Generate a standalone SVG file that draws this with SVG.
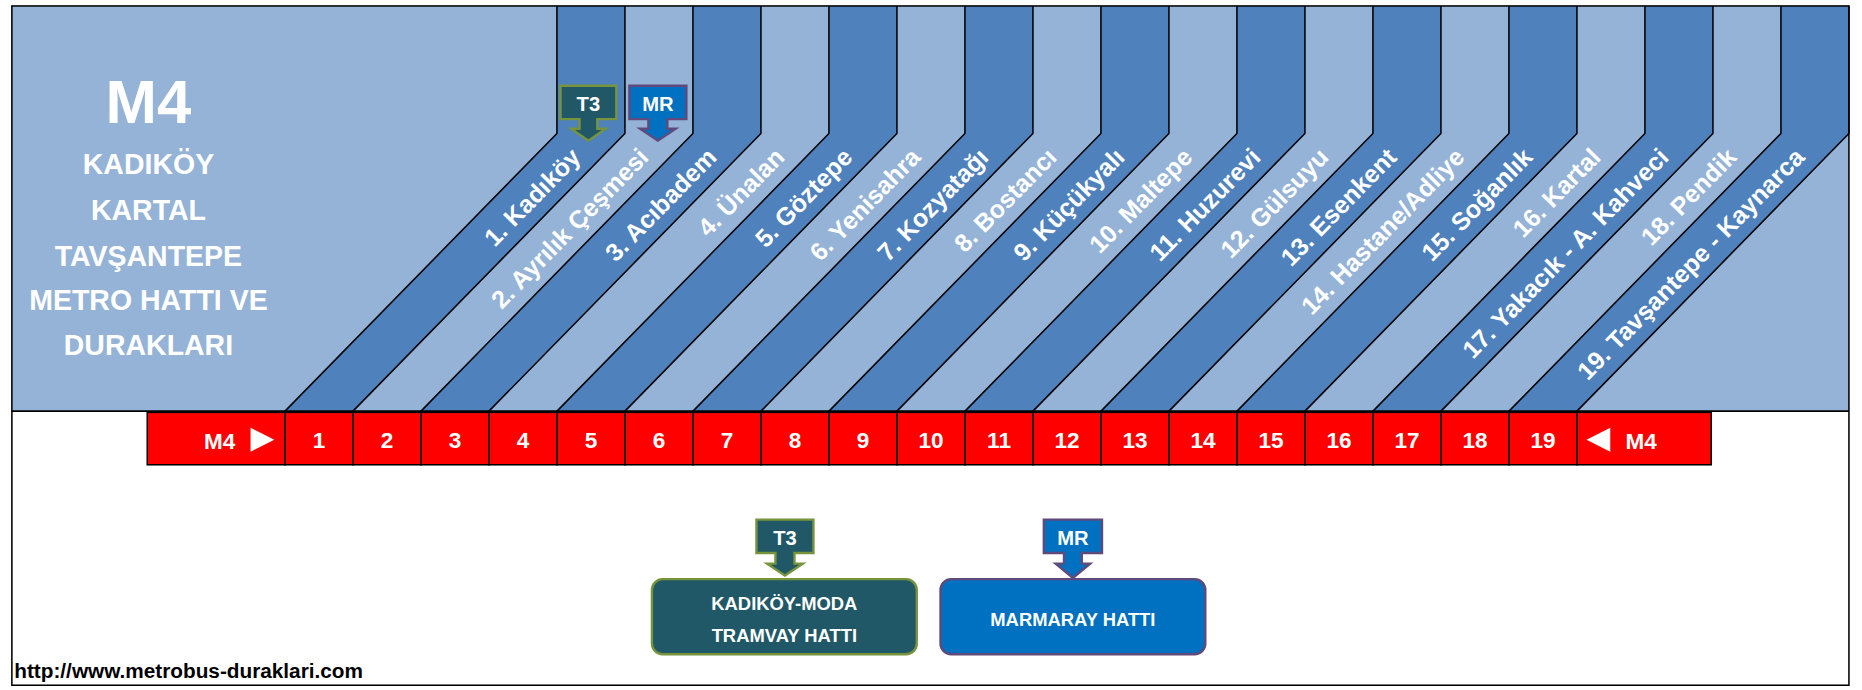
<svg xmlns="http://www.w3.org/2000/svg" xmlns:xlink="http://www.w3.org/1999/xlink" width="1862" height="690" viewBox="0 0 1862 690">
<style>
.lt{fill:#95B3D7}.dk{fill:#4F81BD}
.ln{fill:none;stroke:#000;stroke-width:1.3}
.hd{font-family:"Liberation Sans",Arial,sans-serif;font-weight:bold;fill:#fff;text-anchor:middle}
.lb{font-family:"Liberation Sans",Arial,sans-serif;font-weight:bold;fill:#fff;font-size:21px;text-anchor:end}
.nb{fill:#FF0000;stroke:#000;stroke-width:1.3}
.nt{font-family:"Liberation Sans",Arial,sans-serif;font-weight:bold;fill:#fff;font-size:19px;text-anchor:middle}
.bt{font-family:"Liberation Sans",Arial,sans-serif;font-weight:bold;fill:#fff;text-anchor:middle}
.t3{fill:#215868;stroke:#77933C;stroke-width:2}
.mr{fill:#0070C0;stroke:#604A7B;stroke-width:2}
</style>
<defs>
<polygon id="band" class="dk" points="469,5 526.26,5 526.26,112 297.26,345 240,345 469,112"/>
<polyline id="bl" class="ln" points="469,5 469,112 240,345"/>
</defs>
<rect width="1862" height="690" fill="#fff"/>
<g transform="scale(1.1875 1.19171)">
<g id="header">
<rect class="lt" x="10" y="5" width="1547" height="340"/>
<use xlink:href="#band"/>
<use xlink:href="#band" x="114.526"/>
<use xlink:href="#band" x="229.053"/>
<use xlink:href="#band" x="343.579"/>
<use xlink:href="#band" x="458.105"/>
<use xlink:href="#band" x="572.632"/>
<use xlink:href="#band" x="687.158"/>
<use xlink:href="#band" x="801.684"/>
<use xlink:href="#band" x="916.211"/>
<use xlink:href="#band" x="1030.737"/>
<use xlink:href="#bl"/>
<use xlink:href="#bl" x="57.263"/>
<use xlink:href="#bl" x="114.526"/>
<use xlink:href="#bl" x="171.789"/>
<use xlink:href="#bl" x="229.053"/>
<use xlink:href="#bl" x="286.316"/>
<use xlink:href="#bl" x="343.579"/>
<use xlink:href="#bl" x="400.842"/>
<use xlink:href="#bl" x="458.105"/>
<use xlink:href="#bl" x="515.368"/>
<use xlink:href="#bl" x="572.632"/>
<use xlink:href="#bl" x="629.895"/>
<use xlink:href="#bl" x="687.158"/>
<use xlink:href="#bl" x="744.421"/>
<use xlink:href="#bl" x="801.684"/>
<use xlink:href="#bl" x="858.947"/>
<use xlink:href="#bl" x="916.211"/>
<use xlink:href="#bl" x="973.474"/>
<use xlink:href="#bl" x="1030.737"/>
<use xlink:href="#bl" x="1088"/>
<text class="hd" x="125" y="103" font-size="52">M4</text>
<text class="hd" x="125" y="146" font-size="24">KADIKÖY</text>
<text class="hd" x="125" y="185" font-size="24">KARTAL</text>
<text class="hd" x="125" y="223" font-size="24">TAVŞANTEPE</text>
<text class="hd" x="125" y="260" font-size="24">METRO HATTI VE</text>
<text class="hd" x="125" y="298" font-size="24">DURAKLARI</text>
</g>
<g id="labels">
<text class="lb" transform="translate(484.9,128) rotate(-45.5)" dy="0.35em">1. Kadıköy</text>
<text class="lb" transform="translate(542.1,128) rotate(-45.5)" dy="0.35em">2. Ayrılık Çeşmesi</text>
<text class="lb" transform="translate(599.4,128) rotate(-45.5)" dy="0.35em">3. Acıbadem</text>
<text class="lb" transform="translate(656.6,128) rotate(-45.5)" dy="0.35em">4. Ünalan</text>
<text class="lb" transform="translate(713.9,128) rotate(-45.5)" dy="0.35em">5. Göztepe</text>
<text class="lb" transform="translate(771.2,128) rotate(-45.5)" dy="0.35em">6. Yenisahra</text>
<text class="lb" transform="translate(828.4,128) rotate(-45.5)" dy="0.35em">7. Kozyatağı</text>
<text class="lb" transform="translate(885.7,128) rotate(-45.5)" dy="0.35em">8. Bostancı</text>
<text class="lb" transform="translate(943.0,128) rotate(-45.5)" dy="0.35em">9. Küçükyalı</text>
<text class="lb" transform="translate(1000.2,128) rotate(-45.5)" dy="0.35em">10. Maltepe</text>
<text class="lb" transform="translate(1057.5,128) rotate(-45.5)" dy="0.35em">11. Huzurevi</text>
<text class="lb" transform="translate(1114.7,128) rotate(-45.5)" dy="0.35em">12. Gülsuyu</text>
<text class="lb" transform="translate(1172.0,128) rotate(-45.5)" dy="0.35em">13. Esenkent</text>
<text class="lb" transform="translate(1229.3,128) rotate(-45.5)" dy="0.35em">14. Hastane/Adliye</text>
<text class="lb" transform="translate(1286.5,128) rotate(-45.5)" dy="0.35em">15. Soğanlık</text>
<text class="lb" transform="translate(1343.8,128) rotate(-45.5)" dy="0.35em">16. Kartal</text>
<text class="lb" transform="translate(1401.1,128) rotate(-45.5)" dy="0.35em">17. Yakacık - A. Kahveci</text>
<text class="lb" transform="translate(1458.3,128) rotate(-45.5)" dy="0.35em">18. Pendik</text>
<text class="lb" transform="translate(1515.6,128) rotate(-45.5)" dy="0.35em">19. Tavşantepe - Kaynarca</text>
</g>
<g id="badge-t3-top">
<path class="t3" d="M472,72 H519 V100 H503 V108 H510 L495.5,118 L481,108 H488 V100 H472 Z"/>
<text class="bt" x="495.5" y="93" font-size="17">T3</text>
</g>
<g id="badge-mr-top">
<path class="mr" d="M530,72 H578 V100 H562 V108 H569 L554,118 L539,108 H546 V100 H530 Z"/>
<text class="bt" x="554" y="93" font-size="17">MR</text>
</g>
<g id="numbers">
<rect class="nb" x="124" y="346" width="116" height="44"/>
<text class="nt" x="185" y="377" font-size="23">M4</text>
<polygon points="211,359 211,379 231,369" fill="#fff"/>
<rect class="nb" x="240" y="346" width="57.26" height="44"/><text class="nt" x="268.6" y="376">1</text>
<rect class="nb" x="297.26" y="346" width="57.26" height="44"/><text class="nt" x="325.9" y="376">2</text>
<rect class="nb" x="354.53" y="346" width="57.26" height="44"/><text class="nt" x="383.2" y="376">3</text>
<rect class="nb" x="411.79" y="346" width="57.26" height="44"/><text class="nt" x="440.4" y="376">4</text>
<rect class="nb" x="469.05" y="346" width="57.26" height="44"/><text class="nt" x="497.7" y="376">5</text>
<rect class="nb" x="526.32" y="346" width="57.26" height="44"/><text class="nt" x="554.9" y="376">6</text>
<rect class="nb" x="583.58" y="346" width="57.26" height="44"/><text class="nt" x="612.2" y="376">7</text>
<rect class="nb" x="640.84" y="346" width="57.26" height="44"/><text class="nt" x="669.5" y="376">8</text>
<rect class="nb" x="698.11" y="346" width="57.26" height="44"/><text class="nt" x="726.7" y="376">9</text>
<rect class="nb" x="755.37" y="346" width="57.26" height="44"/><text class="nt" x="784.0" y="376">10</text>
<rect class="nb" x="812.63" y="346" width="57.26" height="44"/><text class="nt" x="841.3" y="376">11</text>
<rect class="nb" x="869.89" y="346" width="57.26" height="44"/><text class="nt" x="898.5" y="376">12</text>
<rect class="nb" x="927.16" y="346" width="57.26" height="44"/><text class="nt" x="955.8" y="376">13</text>
<rect class="nb" x="984.42" y="346" width="57.26" height="44"/><text class="nt" x="1013.1" y="376">14</text>
<rect class="nb" x="1041.68" y="346" width="57.26" height="44"/><text class="nt" x="1070.3" y="376">15</text>
<rect class="nb" x="1098.95" y="346" width="57.26" height="44"/><text class="nt" x="1127.6" y="376">16</text>
<rect class="nb" x="1156.21" y="346" width="57.26" height="44"/><text class="nt" x="1184.8" y="376">17</text>
<rect class="nb" x="1213.47" y="346" width="57.26" height="44"/><text class="nt" x="1242.1" y="376">18</text>
<rect class="nb" x="1270.74" y="346" width="57.26" height="44"/><text class="nt" x="1299.4" y="376">19</text>
<rect class="nb" x="1328" y="346" width="113" height="44"/>
<polygon points="1356,359 1356,379 1336,369" fill="#fff"/>
<text class="nt" x="1382" y="377" font-size="23">M4</text>
</g>
<g id="badge-t3-bottom">
<path class="t3" d="M637,436 H685 V464 H669 V473 H676 L661,483 L646,473 H653 V464 H637 Z"/>
<text class="bt" x="661" y="457" font-size="17">T3</text>
</g>
<g id="box-t3">
<rect class="t3" x="549" y="486" width="223" height="63" rx="9"/>
<text class="bt" x="660.5" y="512" font-size="15.5">KADIKÖY-MODA</text>
<text class="bt" x="660.5" y="539" font-size="15.5">TRAMVAY HATTI</text>
</g>
<g id="badge-mr-bottom">
<path class="mr" d="M879,436 H928 V464 H911 V473 H918 L903.5,485 L889,473 H896 V464 H879 Z"/>
<text class="bt" x="903.5" y="457" font-size="17">MR</text>
</g>
<g id="box-mr">
<rect class="mr" x="792" y="486" width="223" height="63" rx="9"/>
<text class="bt" x="903.5" y="525" font-size="15.5">MARMARAY HATTI</text>
</g>
<text x="12" y="569" font-family="Liberation Sans,Arial,sans-serif" font-weight="bold" font-size="17.5" fill="#000">http://www.metrobus-duraklari.com</text>
<g id="frame" class="ln">
<line x1="10" y1="345" x2="1557" y2="345"/>
<rect x="10" y="5" width="1547" height="570"/>
</g>
</g>
</svg>
